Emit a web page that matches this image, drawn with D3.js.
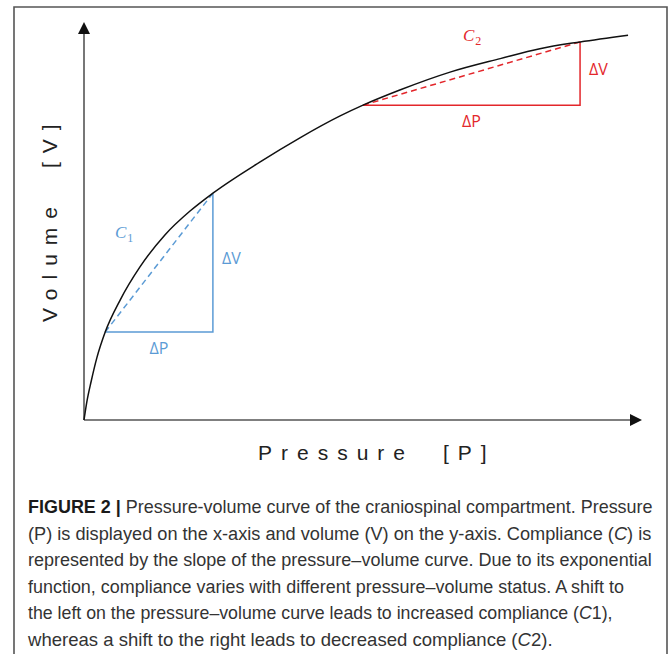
<!DOCTYPE html>
<html><head><meta charset="utf-8">
<script src="https://cdn.jsdelivr.net/npm/d3@7"></script>
<style>body{margin:0;background:#fff}svg{display:block}</style>
</head><body>
<svg id="c" width="670" height="654"></svg>
<script>
// ---- data (arbitrary units 0..100) ----
const curveP = [0, 0.5, 1.3, 2.3, 3.8, 6.5, 10, 14.5, 19, 23.1, 31.5, 38.7, 45.9, 50.0, 56.6, 65.6, 74.6, 81.7, 88.9, 97.5];
const curveV = [0, 4.5, 9.8, 15.6, 22.1, 30.2, 38.4, 46.5, 52.5, 57.0, 64.8, 70.9, 76.4, 79.1, 82.9, 87.4, 90.8, 93.3, 95.0, 96.7];
const c1P = [3.8, 23.1], c1V = [22.1, 57.0];
const c2P = [50.0, 88.9], c2V = [79.1, 95.0];
const xLabel = ["Pressure", "[P]"];
const yLabel = ["Volume", "[V]"];
const captionLines = [
  [{t:"FIGURE 2 |", b:1}, {t:" Pressure-volume curve of the craniospinal compartment. Pressure"}],
  [{t:"(P) is displayed on the x-axis and volume (V) on the y-axis. Compliance ("}, {t:"C", i:1}, {t:") is"}],
  [{t:"represented by the slope of the pressure\u2013volume curve. Due to its exponential"}],
  [{t:"function, compliance varies with different pressure\u2013volume status. A shift to"}],
  [{t:"the left on the pressure\u2013volume curve leads to increased compliance ("}, {t:"C", i:1}, {t:"1),"}],
  [{t:"whereas a shift to the right leads to decreased compliance ("}, {t:"C", i:1}, {t:"2)."}]
];
const captionWidths = [625, 624, 624, 596, 585, 525];

const blue = "#5b9bd5", red = "#e3262b";
const svg = d3.select("#c");

// frame
svg.append("path").attr("d", "M14,654V7H667V654").attr("fill", "none")
  .attr("stroke", "#555").attr("stroke-width", 1.6);

const x = d3.scaleLinear().domain([0, 100]).range([84, 642]);
const y = d3.scaleLinear().domain([0, 100]).range([420, 22]);

// axes
const ax = svg.append("g");
ax.append("line").attr("x1", x(0)).attr("y1", y(0)).attr("x2", x(100) - 10).attr("y2", y(0))
  .attr("stroke", "#555").attr("stroke-width", 1.6);
ax.append("line").attr("x1", x(0)).attr("y1", y(0)).attr("x2", x(0)).attr("y2", y(100) + 10)
  .attr("stroke", "#555").attr("stroke-width", 1.6);
ax.append("path").attr("d", `M${x(100)},${y(0)}L${x(100)-12},${y(0)-6}L${x(100)-12},${y(0)+6}Z`).attr("fill", "#111");
ax.append("path").attr("d", `M${x(0)},${y(100)}L${x(0)-6},${y(100)+12}L${x(0)+6},${y(100)+12}Z`).attr("fill", "#111");

// axis labels
const lab = {"font-family": "'Liberation Sans', Arial, sans-serif", "font-size": "21px", "letter-spacing": "9px", fill: "#222"};
function applyAttrs(sel, o) { for (const k in o) sel.attr(k, o[k]); return sel; }
applyAttrs(svg.append("text").attr("x", 258).attr("y", 460).text(xLabel[0]), lab);
applyAttrs(svg.append("text").attr("x", 443).attr("y", 460).text(xLabel[1]), lab);
applyAttrs(svg.append("text").attr("transform", "translate(57,322) rotate(-90)").text(yLabel[0]), lab);
applyAttrs(svg.append("text").attr("transform", "translate(57,168) rotate(-90)").text(yLabel[1]), lab);

// triangles
const tris = [
  {p: c1P, v: c1V, color: blue, sub: "1", cx: 115, cy: 238},
  {p: c2P, v: c2V, color: red, sub: "2", cx: 463, cy: 41}
];
tris.forEach(t => {
  const x0 = x(t.p[0]), x1 = x(t.p[1]), y0 = y(t.v[0]), y1 = y(t.v[1]);
  svg.append("path").attr("d", `M${x0},${y0}H${x1}V${y1}`).attr("fill", "none")
    .attr("stroke", t.color).attr("stroke-width", 1.5);
  svg.append("line").attr("x1", x0).attr("y1", y0).attr("x2", x1).attr("y2", y1)
    .attr("stroke", t.color).attr("stroke-width", 1.5).attr("stroke-dasharray", "6,4");
  const f = {"font-family": "'Open Sans', 'Noto Sans', sans-serif", "font-size": "16px", fill: t.color};
  applyAttrs(svg.append("text").attr("x", x1 + 9).attr("y", (y0 + y1) / 2 - 4.5)
    .attr("dominant-baseline", "central").text("\u0394V"), f);
  applyAttrs(svg.append("text").attr("x", (x0 + x1) / 2).attr("y", y0 + 16)
    .attr("text-anchor", "middle").attr("dominant-baseline", "central").text("\u0394P"), f);
  const c = svg.append("text").attr("x", t.cx).attr("y", t.cy)
    .attr("font-family", "'Liberation Serif', 'DejaVu Serif', serif").attr("fill", t.color);
  c.append("tspan").attr("font-style", "italic").attr("font-size", "17px").text("C");
  c.append("tspan").attr("font-size", "12px").attr("dx", 1).attr("dy", 4).text(t.sub);
});

// curve
const pts = curveP.map((p, i) => [p, curveV[i]]);
svg.append("path").datum(pts)
  .attr("d", d3.line().x(d => x(d[0])).y(d => y(d[1])).curve(d3.curveMonotoneX))
  .attr("fill", "none").attr("stroke", "#111").attr("stroke-width", 1.5);

// caption
captionLines.forEach((line, i) => {
  const t = svg.append("text")
    .attr("font-family", "'Liberation Sans', Arial, sans-serif").attr("font-size", "18px")
    .attr("fill", "#333").style("white-space", "pre");
  line.forEach(s => {
    const ts = t.append("tspan").text(s.t);
    if (s.b) ts.attr("font-weight", "bold").attr("fill", "#1a1a1a");
    if (s.i) ts.attr("font-style", "italic");
  });
  const w = t.node().getComputedTextLength();
  const k = w > 0 ? captionWidths[i] / w : 1;
  t.attr("transform", `translate(28,${513 + i * 26.6}) scale(${k},1)`);
});
</script>
</body></html>
